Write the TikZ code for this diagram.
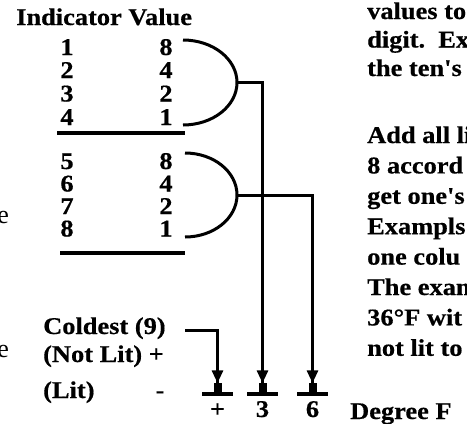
\documentclass[tikz,border=0pt]{standalone}
\usepackage{fontspec}
\setmainfont{Liberation Serif}
\newfontfamily\widefont{Liberation Serif}[FakeStretch=1.1,FakeBold=0.5]
\usetikzlibrary{arrows.meta}
\definecolor{thmInk}{HTML}{000000}
\tikzset{
  thm wire/.style={draw=thmInk, line width=3pt},
  thm arrow/.style={thm wire, -{Triangle[width=11pt,length=13pt,sep=0pt]Rectangle[width=8pt,length=9pt]}},
  thm rule/.style={draw=thmInk, line width=3.5pt},
  thm bar/.style={fill=thmInk, minimum width=31pt, minimum height=3.5pt, inner sep=0pt, outer sep=0pt},
  thm label/.style={font=\widefont\bfseries\fontsize{24}{28}\selectfont, text=thmInk, inner sep=0pt, anchor=base west},
  thm digit/.style={thm label, anchor=base},
  thm cut/.style={font=\fontsize{26}{30}\selectfont, text=thmInk, inner sep=0pt, anchor=base east},
}

\begin{document}
\begin{tikzpicture}[x=1pt,y=-1pt]
  \useasboundingbox (0,0) rectangle (467,424);
  % header and indicator table
  \node[thm label] (head) at (16,25) {Indicator Value};
  \foreach \n/\v/\y in {1/8/55,2/4/78,3/2/101.5,4/1/125,5/8/169,6/4/191.5,7/2/214,8/1/236.5}{
    \node[thm digit] (ind\n) at (67,\y) {\n};
    \node[thm digit] (val\n) at (166,\y) {\v};}
  \draw[thm rule] (57,133) -- (185,133);
  \draw[thm rule] (60,253) -- (185,253);
  % brackets
  \draw[thm wire] (183,40) arc[start angle=-90, end angle=90, x radius=54, y radius=42.5];
  \draw[thm wire] (185,153) arc[start angle=-90, end angle=90, x radius=52, y radius=42];
  \coordinate (tens) at (237,82.5);
  \coordinate (ones) at (237,195);
  % sign labels
  \node[thm label] (coldest) at (43,334) {Coldest (9)};
  \node[thm label] (notlit) at (43,362) {(Not Lit) +};
  \node[thm label] (lit) at (43,398) {(Lit)};
  \node[thm digit] (minus) at (160,398) {-};
  \coordinate (cold) at (185,330);
  % display segments
  \node[thm bar] (barSign) at (217.5,394) {};
  \node[thm bar] (barTens) at (262.5,394) {};
  \node[thm bar] (barOnes) at (312.5,394) {};
  \node[thm digit] (sign) at (217.5,417) {+};
  \node[thm digit] (tensDigit) at (262.5,417) {3};
  \node[thm digit] (onesDigit) at (312.5,417) {6};
  \node[thm label] (unit) at (350,419) {Degree F};
  \draw[thm arrow] (cold) -| (barSign.north);
  \draw[thm arrow] (tens) -| (barTens.north);
  \draw[thm arrow] (ones) -| (barOnes.north);
  % cut-off text at the edges
  \node[thm cut] (cutA) at (9,223.5) {e};
  \node[thm cut] (cutB) at (9,357.5) {e};
  \foreach \t/\y in {values to/19,digit.\ \ Ex/47.5,the ten's/76,Add all li/143,8 accord/173.4,get one's/203.8,Exampls/234.2,one colu/264.6,The exan/295,36°F wit/325.4,not lit to/355.8}{
    \node[thm label] at (367,\y) {\t};}
\end{tikzpicture}
\end{document}
